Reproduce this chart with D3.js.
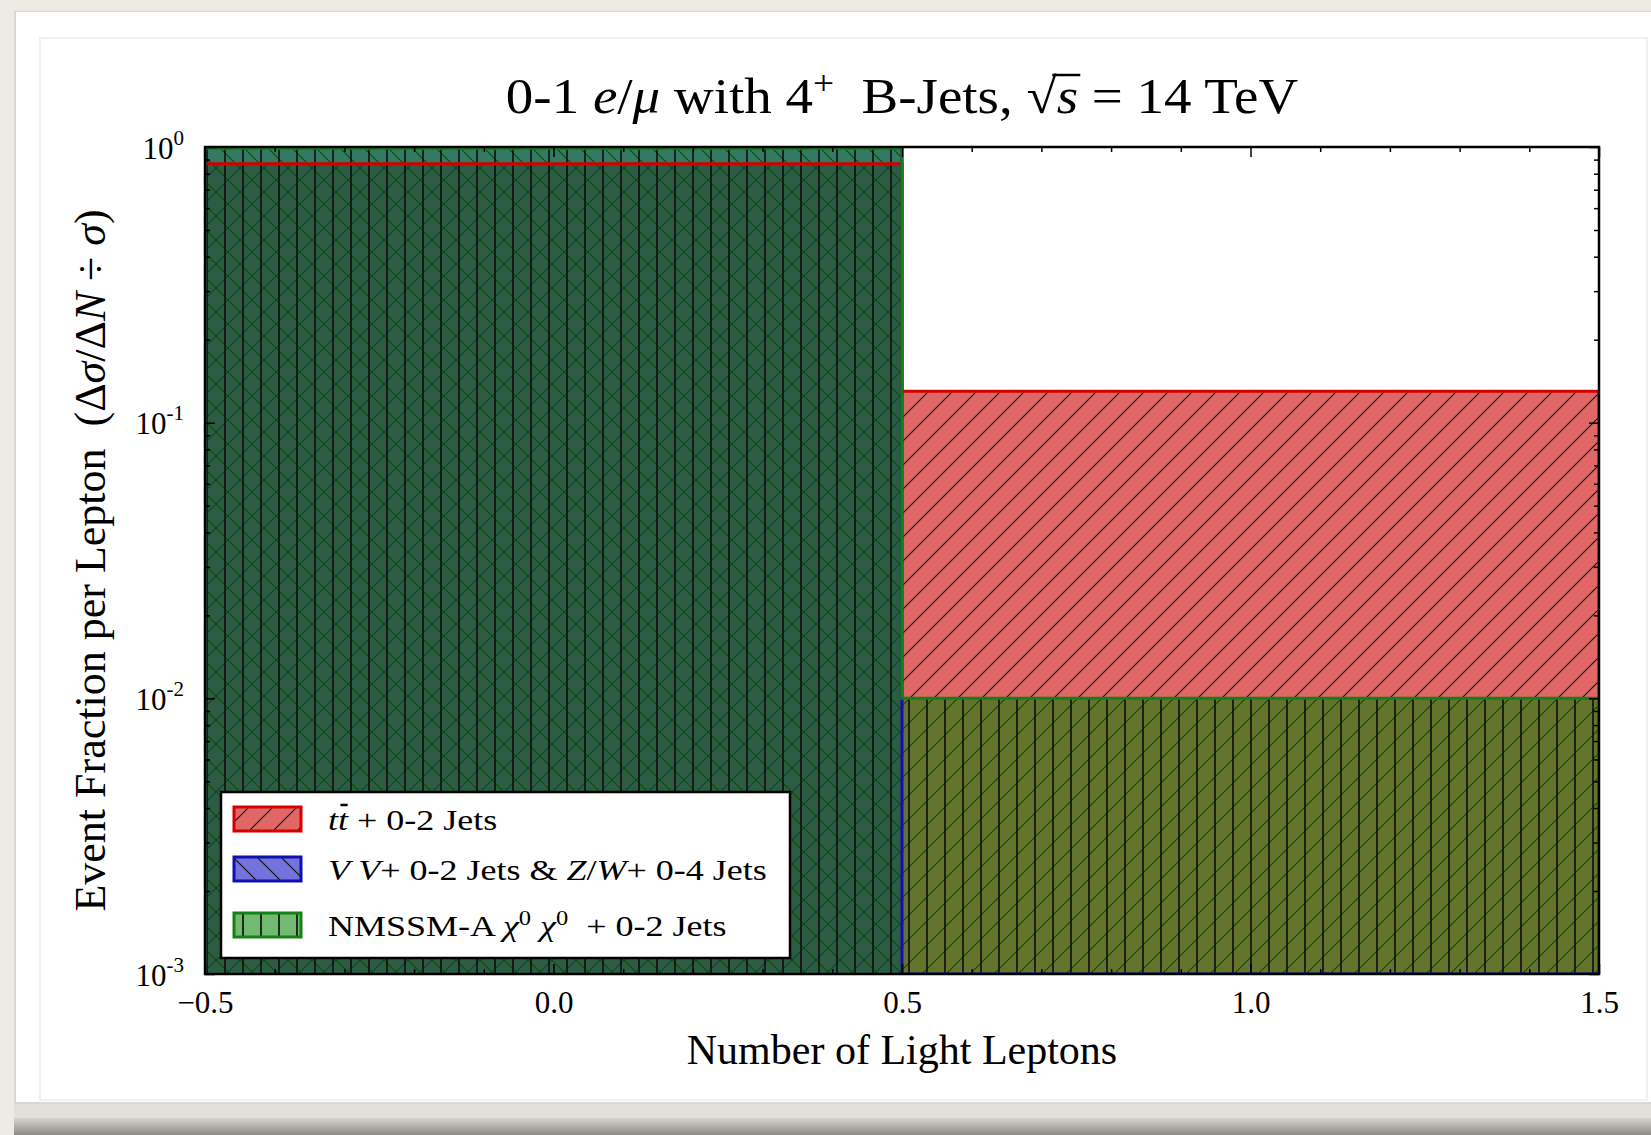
<!DOCTYPE html>
<html>
<head>
<meta charset="utf-8">
<script src="https://cdn.jsdelivr.net/npm/d3@7"></script>
<style>
  html, body { margin: 0; padding: 0; background: #eeebe4; }
  svg { display: block; }
  text { font-family: "Liberation Serif", "Times New Roman", "DejaVu Serif", serif; fill: #000; white-space: pre; }
</style>
</head>
<body>
<svg id="chart" width="1651" height="1135"></svg>
<script>
// ---- data -------------------------------------------------------------
const binEdges   = [-0.5, 0.5, 1.5];          // bins: 0 leptons, 1 lepton
const ttbarFrac  = [0.87, 0.13];              // t tbar + 0-2 jets
const vvFrac     = [1.0, 0.0];                // VV + 0-2 jets & Z/W + 0-4 jets
const nmssmFrac  = [0.99, 0.01];              // NMSSM-A chi0 chi0 + 0-2 jets
const xTicks     = [-0.5, 0.0, 0.5, 1.0, 1.5];
const xMinorTicks = d3.range(-0.4, 1.5, 0.1).map(v => +v.toFixed(1)).filter(v => !xTicks.includes(v));
const yDecades   = [0, -1, -2, -3];           // labelled powers of ten
const yMinorMult = [2, 3, 4, 5, 6, 7, 8, 9];

const seriesNames = ["ttbar", "vv", "nmssm"];
const seriesValues = [ttbarFrac, vvFrac, nmssmFrac];

// rich-text label pieces: [text, style]
const titleParts = [
  ["0-1 ", "n"], ["e", "i"], ["/", "n"], ["\u03bc", "i"], [" with 4", "n"], ["+", "sup"],
  ["  B-Jets, ", "n"], ["\u221a", "rad"], ["s", "ibar"], [" = 14 TeV", "n"]
];
const legendParts = [
  [["t", "i"], ["t", "ibar"], [" + 0-2 Jets", "n"]],
  [["V V", "i"], ["+ 0-2 Jets & ", "n"], ["Z", "i"], ["/", "n"], ["W", "i"], ["+ 0-4 Jets", "n"]],
  [["NMSSM-A ", "n"], ["\u03c7", "i"], ["0", "sup"], [" ", "n"], ["\u03c7", "i"], ["0", "sup"], ["  + 0-2 Jets", "n"]]
];
const yLabelParts = [
  ["Event Fraction per Lepton  (", "n"], ["\u0394", "n"], ["\u03c3", "i"], ["/", "n"],
  ["\u0394", "n"], ["N", "i"], [" \u00f7 ", "n"], ["\u03c3", "i"], [")", "n"]
];
const xLabelText = "Number of Light Leptons";

// ---- styling ----------------------------------------------------------
const styles = {
  ttbar: { fill: "rgb(205,0,0)",   op: 0.6,  edge: "#d40000", hatch: "hatchSlash" },
  vv:    { fill: "rgb(0,0,190)",   op: 0.55, edge: "#1010b0", hatch: "hatchBack" },
  nmssm: { fill: "rgb(0,128,0)",   op: 0.554, edge: "#158015", hatch: "hatchVert" }
};

const W = 1651, H = 1135;
const plot = { left: 205, right: 1599, top: 147, bottom: 974 };

const svg = d3.select("#chart");
const defs = svg.append("defs");

// page card
const shadow = defs.append("linearGradient").attr("id", "shadowGrad").attr("x1", 0).attr("x2", 0).attr("y1", 0).attr("y2", 1);
shadow.append("stop").attr("offset", 0).attr("stop-color", "#d6d4cf");
shadow.append("stop").attr("offset", 1).attr("stop-color", "#8c8a86");
svg.append("rect").attr("x", 0).attr("y", 0).attr("width", W).attr("height", H).attr("fill", "#eeebe4");
svg.append("rect").attr("x", 14).attr("y", 1104).attr("width", W - 14).attr("height", 14).attr("fill", "#e2e0db");
svg.append("rect").attr("x", 14).attr("y", 1118).attr("width", W - 14).attr("height", 17).attr("fill", "url(#shadowGrad)");
svg.append("rect").attr("x", 14).attr("y", 11).attr("width", W - 14).attr("height", 1093).attr("fill", "#d9d7d2");
svg.append("rect").attr("x", 16).attr("y", 12).attr("width", W - 16).attr("height", 1090).attr("fill", "#ffffff");
svg.append("rect").attr("x", 40).attr("y", 38).attr("width", 1607).attr("height", 1062)
  .attr("fill", "none").attr("stroke", "#ececec").attr("stroke-width", 1.5);

// hatch patterns
function makePattern(id, w, h, d, sw) {
  const p = defs.append("pattern").attr("id", id).attr("patternUnits", "userSpaceOnUse")
    .attr("width", w).attr("height", h);
  p.append("path").attr("d", d).attr("stroke", "#111").attr("stroke-width", sw).attr("fill", "none");
}
makePattern("hatchSlash", 24, 24, "M-6,6L6,-6M0,24L24,0M18,30L30,18", 1.2);
makePattern("hatchBack", 24, 24, "M0,0L24,24M-6,18L6,30M18,-6L30,6", 1.2);
makePattern("hatchVert", 18, 10, "M9,-1V11", 1.7);

// scales
const x = d3.scaleLinear().domain([-0.5, 1.5]).range([plot.left, plot.right]);
const y = d3.scaleLog().domain([1e-3, 1]).range([plot.bottom, plot.top]).clamp(true);
const yv = v => y(Math.max(v, 1e-3));

function stepPath(vals) {
  let d = `M${x(binEdges[0])},${plot.bottom}`;
  vals.forEach((v, i) => {
    d += `V${yv(v)}H${x(binEdges[i + 1])}`;
  });
  d += `V${plot.bottom}`;
  return d;
}

const clip = defs.append("clipPath").attr("id", "plotClip");
clip.append("rect").attr("x", plot.left).attr("y", plot.top)
  .attr("width", plot.right - plot.left).attr("height", plot.bottom - plot.top);

const gPlot = svg.append("g").attr("clip-path", "url(#plotClip)");

// filled histograms with hatching
seriesNames.forEach((name, k) => {
  const s = styles[name];
  const d = stepPath(seriesValues[k]) + "Z";
  gPlot.append("path").attr("d", d).attr("fill", s.fill).attr("fill-opacity", s.op);
  gPlot.append("path").attr("d", d).attr("fill", `url(#${s.hatch})`);
});
// outlines
seriesNames.forEach((name, k) => {
  const s = styles[name];
  gPlot.append("path").attr("d", stepPath(seriesValues[k])).attr("fill", "none")
    .attr("stroke", s.edge).attr("stroke-width", 3);
});

// axes (ticks pointing inward on all four sides)
function styleAxis(g) {
  g.select(".domain").remove();
  g.selectAll(".tick line").attr("stroke", "#000").attr("stroke-width", 1.5);
}
const yMinors = [];
yDecades.slice(1).forEach(e => yMinorMult.forEach(m => yMinors.push(m * Math.pow(10, e))));
const yMajors = yDecades.map(e => Math.pow(10, e));

const axes = svg.append("g");
// bottom
axes.append("g").attr("transform", `translate(0,${plot.bottom})`)
  .call(d3.axisBottom(x).tickValues(xTicks).tickSize(-10).tickFormat(d3.format(".1f")))
  .call(styleAxis)
  .call(g => g.selectAll(".tick text").attr("y", 39).attr("dy", 0)
    .attr("font-size", 31).attr("font-family", "Liberation Serif, serif"));
axes.append("g").attr("transform", `translate(0,${plot.bottom})`)
  .call(d3.axisBottom(x).tickValues(xMinorTicks).tickSize(-5).tickFormat(""))
  .call(styleAxis);
// top
axes.append("g").attr("transform", `translate(0,${plot.top})`)
  .call(d3.axisTop(x).tickValues(xTicks).tickSize(-10).tickFormat(""))
  .call(styleAxis);
axes.append("g").attr("transform", `translate(0,${plot.top})`)
  .call(d3.axisTop(x).tickValues(xMinorTicks).tickSize(-5).tickFormat(""))
  .call(styleAxis);
// left
const leftAxis = axes.append("g").attr("transform", `translate(${plot.left},0)`)
  .call(d3.axisLeft(y).tickValues(yMajors).tickSize(-10).tickFormat(""))
  .call(styleAxis);
axes.append("g").attr("transform", `translate(${plot.left},0)`)
  .call(d3.axisLeft(y).tickValues(yMinors).tickSize(-5).tickFormat(""))
  .call(styleAxis);
// right
axes.append("g").attr("transform", `translate(${plot.right},0)`)
  .call(d3.axisRight(y).tickValues(yMajors).tickSize(-10).tickFormat(""))
  .call(styleAxis);
axes.append("g").attr("transform", `translate(${plot.right},0)`)
  .call(d3.axisRight(y).tickValues(yMinors).tickSize(-5).tickFormat(""))
  .call(styleAxis);

// y tick labels as 10^n
leftAxis.selectAll(".tick").each(function(d) {
  const e = Math.round(Math.log10(d));
  const t = d3.select(this).append("text").attr("x", -21).attr("y", 11)
    .attr("text-anchor", "end").attr("font-size", 31);
  t.append("tspan").text("10");
  t.append("tspan").attr("font-size", 21).attr("dy", -14).text(String(e));
});

// frame
svg.append("rect").attr("x", plot.left).attr("y", plot.top)
  .attr("width", plot.right - plot.left).attr("height", plot.bottom - plot.top)
  .attr("fill", "none").attr("stroke", "#000").attr("stroke-width", 2.5);

// rich text helper
function richText(sel, parts, size) {
  const bars = [];
  let shift = 0;
  parts.forEach(([txt, st]) => {
    const ts = sel.append("tspan").text(txt);
    if (st === "i" || st === "ibar") ts.attr("font-style", "italic");
    if (st === "sup") {
      ts.attr("font-size", size * 0.68).attr("dy", -size * 0.38);
      shift = size * 0.38;
    } else if (shift) {
      ts.attr("dy", shift);
      shift = 0;
    }
    if (st === "ibar" ) bars.push(ts);
  });
  return bars;
}

// title (slightly widened glyph run)
const titleG = svg.append("g").attr("transform", `translate(${x(0.5)},113) scale(1.1,1)`);
const title = titleG.append("text").attr("x", 0).attr("y", 0)
  .attr("text-anchor", "middle").attr("font-size", 50);
const titleBars = richText(title, titleParts, 50);
titleBars.forEach(ts => {
  const bb = ts.node().getBBox();
  const rad = title.selectAll("tspan").filter((d, i) => titleParts[i][1] === "rad").node().getBBox();
  titleG.append("line").attr("x1", rad.x + rad.width * 0.85).attr("x2", bb.x + bb.width + 2)
    .attr("y1", -38).attr("y2", -38).attr("stroke", "#000").attr("stroke-width", 2.5);
});

// axis labels
svg.append("text").attr("x", x(0.5)).attr("y", 1064).attr("text-anchor", "middle")
  .attr("font-size", 42).text(xLabelText);
const yl = svg.append("text").attr("transform", `translate(105,${(plot.top + plot.bottom) / 2}) rotate(-90)`)
  .attr("text-anchor", "middle").attr("font-size", 44);
richText(yl, yLabelParts, 44);

// legend
const leg = svg.append("g");
leg.append("rect").attr("x", 221).attr("y", 792).attr("width", 569).attr("height", 166)
  .attr("fill", "#fff").attr("stroke", "#000").attr("stroke-width", 2.5);
const rowY = [819, 869, 925];
seriesNames.forEach((name, k) => {
  const s = styles[name];
  const cy = rowY[k];
  leg.append("rect").attr("x", 234).attr("y", cy - 12).attr("width", 67).attr("height", 24)
    .attr("fill", s.fill).attr("fill-opacity", s.op);
  leg.append("rect").attr("x", 234).attr("y", cy - 12).attr("width", 67).attr("height", 24)
    .attr("fill", `url(#${s.hatch})`).attr("stroke", s.edge).attr("stroke-width", 3);
  const tg = leg.append("g").attr("transform", `translate(328,${cy + 11}) scale(1.2,1)`);
  const t = tg.append("text").attr("x", 0).attr("y", 0).attr("font-size", 30);
  const bars = richText(t, legendParts[k], 30);
  bars.forEach(ts => {
    const bb = ts.node().getBBox();
    tg.append("line").attr("x1", bb.x + 2).attr("x2", bb.x + bb.width - 1)
      .attr("y1", -25).attr("y2", -25).attr("stroke", "#000").attr("stroke-width", 2.5);
  });
});
</script>
</body>
</html>
